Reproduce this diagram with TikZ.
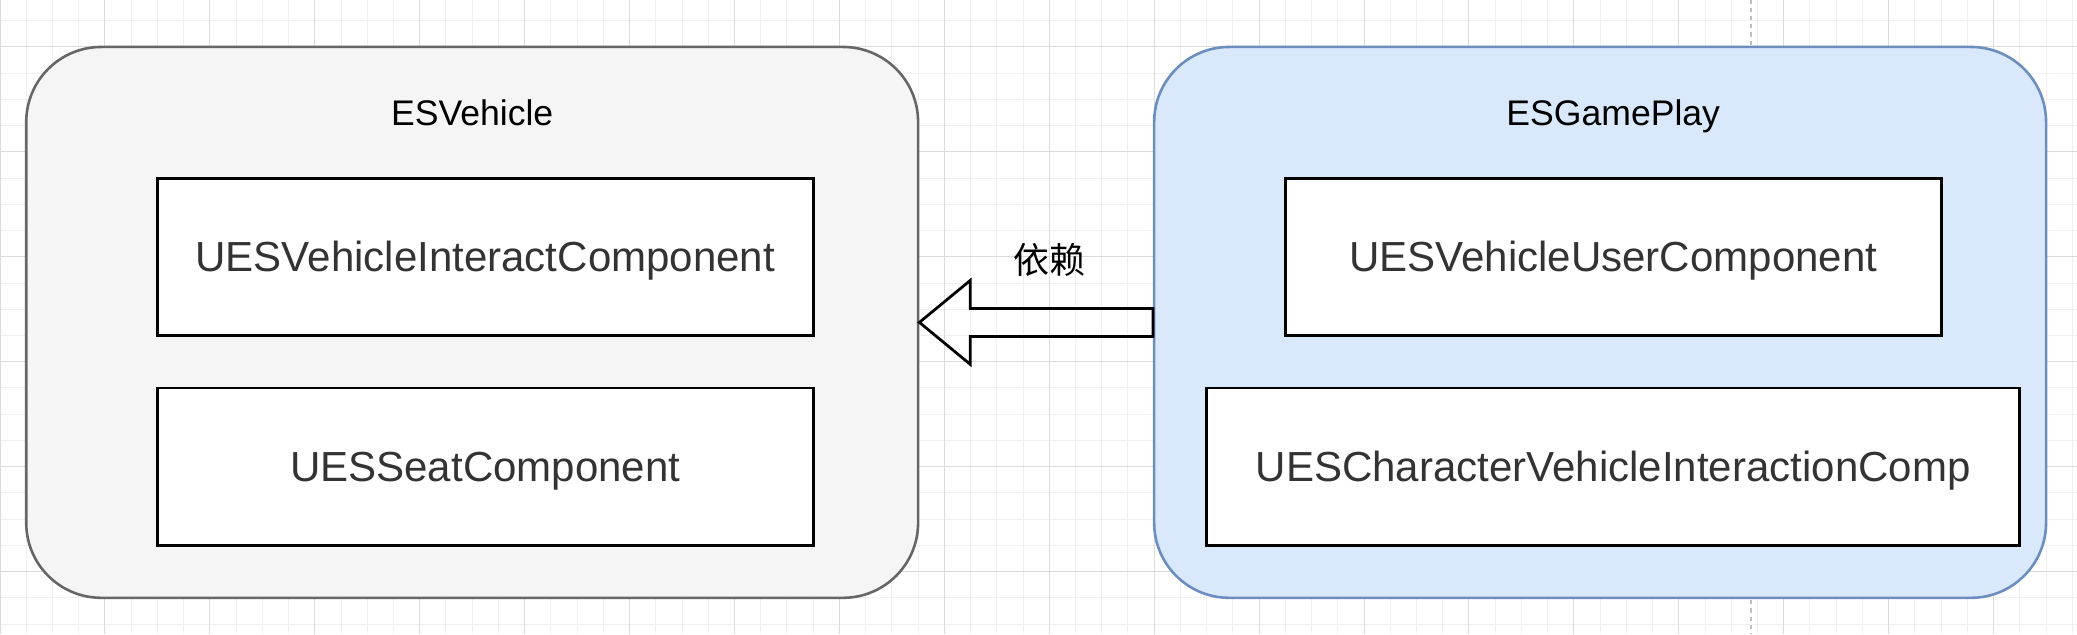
\documentclass[tikz,border=0pt]{standalone}
\usepackage{fontspec}
\setmainfont{Liberation Sans}
\newfontfamily\cjkfont{Noto Sans CJK SC}
\usetikzlibrary{positioning}
\usetikzlibrary{calc}
\definecolor{vehfill}{HTML}{F5F5F5}
\definecolor{vehline}{HTML}{666666}
\definecolor{gpfill}{HTML}{DAE8FC}
\definecolor{gpline}{HTML}{6C8EBF}
\definecolor{txtgray}{HTML}{333333}
\tikzset{minorline/.style={draw=black!6,line width=0.55pt}}
\tikzset{majorline/.style={draw=black!14,line width=0.55pt}}
\tikzset{pageline/.style={draw=black!25,line width=0.8pt,dash pattern=on 2.2pt off 2.2pt}}
\tikzset{module/.style={draw,line width=1.4pt,rounded corners=1.43cm,minimum width=17cm,minimum height=10.5cm,inner sep=0pt}}
\tikzset{comp/.style={draw=black,fill=white,line width=1.5pt,minimum height=3cm,inner sep=0pt,text=txtgray,text height=16.3pt,text depth=0pt,font=\fontsize{22.8}{27}\selectfont}}
\tikzset{title/.style={inner sep=0pt,text height=13.8pt,text depth=0pt,font=\fontsize{19.3}{23}\selectfont}}
\tikzset{ed/.style={inner sep=0pt,font=\cjkfont\fontsize{19.5}{23}\selectfont}}
\tikzset{dep/.style={line width=1.5pt,line join=miter}}

\begin{document}
\begin{tikzpicture}[x=0.5cm,y=-0.5cm, on grid]
        \useasboundingbox (0,-1.79) rectangle (79.18,22.38);
        \foreach \i in {0,...,79} \draw[minorline] (\i,-1.79) -- (\i,22.38);
        \foreach \j in {-1,...,22} \draw[minorline] (0,\j) -- (79.18,\j);
        \foreach \i in {0,4,...,76} \draw[majorline] (\i,-1.79) -- (\i,22.38);
        \foreach \j in {0,4,...,20} \draw[majorline] (0,\j) -- (79.18,\j);
        \draw[pageline] (66.76,-1.79) -- (66.76,22.38);

        \node[module,fill=vehfill,draw=vehline] (veh) at (18,10.5) {};
        \node[module,fill=gpfill,draw=gpline] (gp) at (61,10.5) {};

        \node[title] (vehtitle) at (18,2.52) {ESVehicle};
        \node[title] (gptitle) at (61.5,2.52) {ESGamePlay};

        \node[comp,minimum width=12.5cm] (interact) at (18.5,8) {UESVehicleInteractComponent};
        \node[comp,minimum width=12.5cm,below=4cm of interact] (seat) {UESSeatComponent};

        \node[comp,minimum width=12.5cm] (user) at (61.5,8) {UESVehicleUserComponent};
        \node[comp,minimum width=15.5cm,below=4cm of user] (charint) {UESCharacterVehicleInteractionComp};

        \draw[dep] ([yshift=-0.267cm]gp.west) -- ([xshift=0.97cm,yshift=-0.267cm]veh.east)
            -- ([xshift=0.97cm,yshift=-0.8cm]veh.east) -- (veh.east)
            -- ([xshift=0.97cm,yshift=0.8cm]veh.east) -- ([xshift=0.97cm,yshift=0.267cm]veh.east)
            -- ([yshift=0.267cm]gp.west) -- cycle;
        \node[ed] (deplabel) at (40,8.1) {依赖};
    \end{tikzpicture}
\end{document}
